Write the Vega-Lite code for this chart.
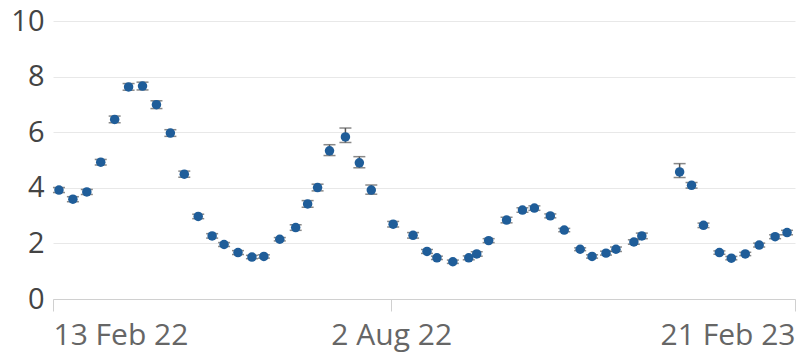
{
  "$schema": "https://vega.github.io/schema/vega-lite/v6.json",
  "autosize": {"type": "none"},
  "padding": {"left": 53, "top": 21, "right": 1, "bottom": 58},
  "width": 742,
  "height": 278,
  "background": "white",
  "config": {
    "view": {"stroke": null},
    "font": "Open Sans"
  },
  "data": {
    "values": [
      {"date": "2022-02-16", "value": 3.92, "lower": 3.83, "upper": 4.01},
      {"date": "2022-02-23", "value": 3.59, "lower": 3.50, "upper": 3.68},
      {"date": "2022-03-02", "value": 3.85, "lower": 3.76, "upper": 3.94},
      {"date": "2022-03-09", "value": 4.92, "lower": 4.82, "upper": 5.02},
      {"date": "2022-03-16", "value": 6.46, "lower": 6.34, "upper": 6.58},
      {"date": "2022-03-23", "value": 7.63, "lower": 7.51, "upper": 7.75},
      {"date": "2022-03-30", "value": 7.66, "lower": 7.52, "upper": 7.80},
      {"date": "2022-04-06", "value": 6.99, "lower": 6.85, "upper": 7.13},
      {"date": "2022-04-13", "value": 5.97, "lower": 5.85, "upper": 6.09},
      {"date": "2022-04-20", "value": 4.49, "lower": 4.38, "upper": 4.60},
      {"date": "2022-04-27", "value": 2.97, "lower": 2.89, "upper": 3.05},
      {"date": "2022-05-04", "value": 2.27, "lower": 2.19, "upper": 2.35},
      {"date": "2022-05-10", "value": 1.96, "lower": 1.89, "upper": 2.03},
      {"date": "2022-05-17", "value": 1.67, "lower": 1.60, "upper": 1.74},
      {"date": "2022-05-24", "value": 1.51, "lower": 1.45, "upper": 1.57},
      {"date": "2022-05-30", "value": 1.53, "lower": 1.47, "upper": 1.59},
      {"date": "2022-06-07", "value": 2.15, "lower": 2.09, "upper": 2.21},
      {"date": "2022-06-15", "value": 2.57, "lower": 2.47, "upper": 2.67},
      {"date": "2022-06-21", "value": 3.42, "lower": 3.30, "upper": 3.54},
      {"date": "2022-06-26", "value": 4.01, "lower": 3.89, "upper": 4.13},
      {"date": "2022-07-02", "value": 5.33, "lower": 5.16, "upper": 5.55},
      {"date": "2022-07-10", "value": 5.83, "lower": 5.63, "upper": 6.15},
      {"date": "2022-07-17", "value": 4.90, "lower": 4.72, "upper": 5.12},
      {"date": "2022-07-23", "value": 3.92, "lower": 3.77, "upper": 4.10},
      {"date": "2022-08-03", "value": 2.69, "lower": 2.59, "upper": 2.79},
      {"date": "2022-08-13", "value": 2.29, "lower": 2.19, "upper": 2.39},
      {"date": "2022-08-20", "value": 1.71, "lower": 1.64, "upper": 1.78},
      {"date": "2022-08-25", "value": 1.48, "lower": 1.42, "upper": 1.54},
      {"date": "2022-09-02", "value": 1.34, "lower": 1.28, "upper": 1.40},
      {"date": "2022-09-10", "value": 1.48, "lower": 1.41, "upper": 1.55},
      {"date": "2022-09-14", "value": 1.62, "lower": 1.54, "upper": 1.70},
      {"date": "2022-09-20", "value": 2.10, "lower": 2.03, "upper": 2.17},
      {"date": "2022-09-29", "value": 2.84, "lower": 2.74, "upper": 2.94},
      {"date": "2022-10-07", "value": 3.20, "lower": 3.12, "upper": 3.28},
      {"date": "2022-10-13", "value": 3.27, "lower": 3.19, "upper": 3.35},
      {"date": "2022-10-21", "value": 2.99, "lower": 2.92, "upper": 3.06},
      {"date": "2022-10-28", "value": 2.48, "lower": 2.42, "upper": 2.54},
      {"date": "2022-11-05", "value": 1.79, "lower": 1.74, "upper": 1.84},
      {"date": "2022-11-11", "value": 1.53, "lower": 1.47, "upper": 1.59},
      {"date": "2022-11-18", "value": 1.65, "lower": 1.58, "upper": 1.72},
      {"date": "2022-11-23", "value": 1.79, "lower": 1.71, "upper": 1.87},
      {"date": "2022-12-02", "value": 2.05, "lower": 1.97, "upper": 2.13},
      {"date": "2022-12-06", "value": 2.27, "lower": 2.17, "upper": 2.37},
      {"date": "2022-12-25", "value": 4.57, "lower": 4.37, "upper": 4.87},
      {"date": "2022-12-31", "value": 4.09, "lower": 3.99, "upper": 4.19},
      {"date": "2023-01-06", "value": 2.65, "lower": 2.57, "upper": 2.73},
      {"date": "2023-01-14", "value": 1.67, "lower": 1.61, "upper": 1.73},
      {"date": "2023-01-20", "value": 1.47, "lower": 1.41, "upper": 1.53},
      {"date": "2023-01-27", "value": 1.62, "lower": 1.56, "upper": 1.68},
      {"date": "2023-02-03", "value": 1.94, "lower": 1.87, "upper": 2.01},
      {"date": "2023-02-11", "value": 2.24, "lower": 2.17, "upper": 2.31},
      {"date": "2023-02-17", "value": 2.39, "lower": 2.31, "upper": 2.47}
    ]
  },
  "encoding": {
    "x": {
      "field": "date",
      "type": "temporal",
      "scale": {
        "type": "utc",
        "domain": [
          {"year": 2022, "month": 2, "date": 13, "utc": true},
          {"year": 2023, "month": 2, "date": 21, "utc": true}
        ]
      },
      "axis": {
        "title": null,
        "values": [
          {"year": 2022, "month": 2, "date": 13, "utc": true},
          {"year": 2022, "month": 8, "date": 2, "utc": true},
          {"year": 2023, "month": 2, "date": 21, "utc": true}
        ],
        "format": "%-d %b %y",
        "grid": false,
        "domainColor": "#d0d0d0",
        "domainWidth": 1,
        "tickColor": "#d0d0d0",
        "tickSize": 12,
        "labelPadding": 9,
        "labelFontSize": 30,
        "labelColor": "#666666",
        "labelFlush": true,
        "labelOverlap": false
      }
    }
  },
  "layer": [
    {
      "mark": {"type": "errorbar", "ticks": {"size": 12, "color": "#555555", "thickness": 1.5}, "color": "#555555", "thickness": 1.5},
      "encoding": {
        "y": {
          "field": "lower",
          "type": "quantitative",
          "scale": {"domain": [0, 10]},
          "axis": {
            "title": null,
            "values": [0, 2, 4, 6, 8, 10],
            "domain": false,
            "ticks": false,
            "gridColor": "#e8e8e8",
            "gridWidth": 1,
            "labelFontSize": 29,
            "labelColor": "#444444",
            "labelPadding": 9
          }
        },
        "y2": {"field": "upper"}
      }
    },
    {
      "mark": {"type": "point", "filled": true, "size": 90, "color": "#1f5d99", "opacity": 1},
      "encoding": {
        "y": {"field": "value", "type": "quantitative"}
      }
    }
  ]
}
